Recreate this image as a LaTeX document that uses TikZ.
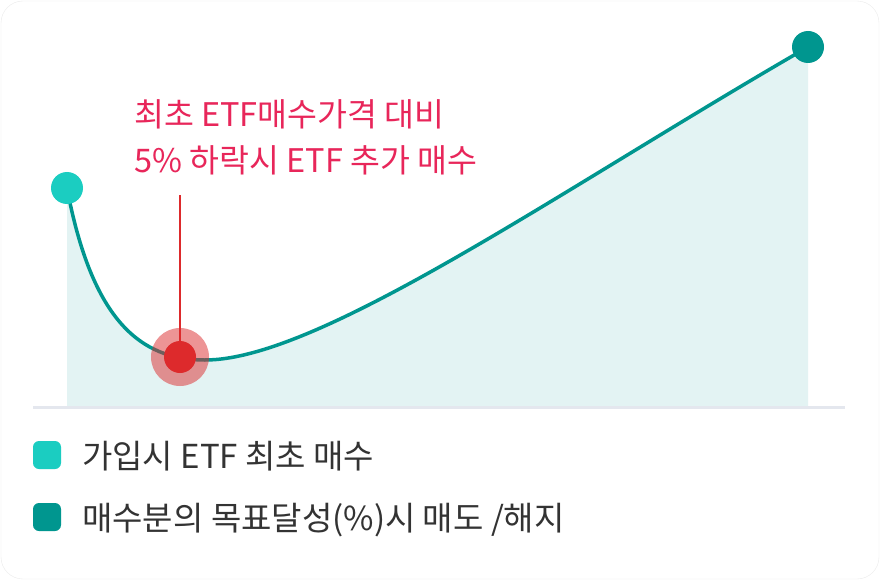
\documentclass[tikz,border=0pt]{standalone}
\usepackage{fontspec}
\setmainfont{Noto Sans CJK KR}
\usepackage{tikz}
\usetikzlibrary{
	positioning
}
\definecolor{mint}{HTML}{1BCDC1}
\definecolor{teal}{HTML}{00968F}
\definecolor{areafill}{HTML}{E3F3F3}
\definecolor{axisgray}{HTML}{E4E7EE}
\definecolor{markred}{HTML}{DD2A2C}
\definecolor{notered}{HTML}{E8265A}
\definecolor{legendtext}{HTML}{333333}
\tikzset{
	dot/.style={
		circle, inner sep=0pt, minimum size=32pt
	},
	key/.style={
		rounded corners=6pt, minimum size=28pt, inner sep=0pt
	},
	keytext/.style={
		anchor=base west, inner sep=0pt, text=legendtext, font=\fontsize{33pt}{38pt}\selectfont
	},
	notetext/.style={
		anchor=base west, inner sep=0pt, text=notered, font=\fontsize{32.5pt}{38pt}\selectfont
	},
	curve/.style={
		draw=teal, line width=3.5pt
	}
}

\begin{document}
\begin{tikzpicture}[x=1pt,y=-1pt]
	\useasboundingbox (0,0) rectangle (880,580);
	\draw [fill=white, draw=black!8, rounded corners=22pt] (1,1) rectangle (879,579);

	% area under the curve
	\fill [areafill]
		(67,188) .. controls (92,320) and (140,360) .. (205,360)
		.. controls (320,360) and (560,190) .. (808,47)
		-- (808,406) -- (67,406) -- cycle;
	\coordinate (b0) at (33,407);
	\coordinate (b1) at (845,407);
	\draw [axisgray, line width=3pt] (b0) -- (b1);

	% curve
	\draw [curve]
		(67,188) .. controls (92,320) and (140,360) .. (205,360)
		.. controls (320,360) and (560,190) .. (808,47);

	\node [dot, fill=mint]  (start) at (67,188) {};
	\node [dot, fill=teal]  (goal)  at (808,47) {};

	% extra purchase marker
	\coordinate (tip) at (180,195);
	\node [circle, inner sep=0pt, minimum size=58pt, fill=markred, opacity=0.5] (halo) at (180,357) {};
	\node [dot, fill=markred] (buy) at (180,357) {};
	\draw [markred, line width=2.8pt] (tip) -- (buy.center);
	\node [notetext] (note1) at (134,127) {최초 ETF매수가격 대비};
	\node [notetext] (note2) at (134,172) {5\% 하락시 ETF 추가 매수};

	% legend
	\node [key, fill=mint] (k1) at (47,455) {};
	\node [key, fill=teal] (k2) at (47,517) {};
	\node [keytext] (t1) at (82,468) {가입시 ETF 최초 매수};
	\node [keytext] (t2) at (82,530) {매수분의 목표달성(\%)시 매도 /해지};
\end{tikzpicture}
\end{document}
